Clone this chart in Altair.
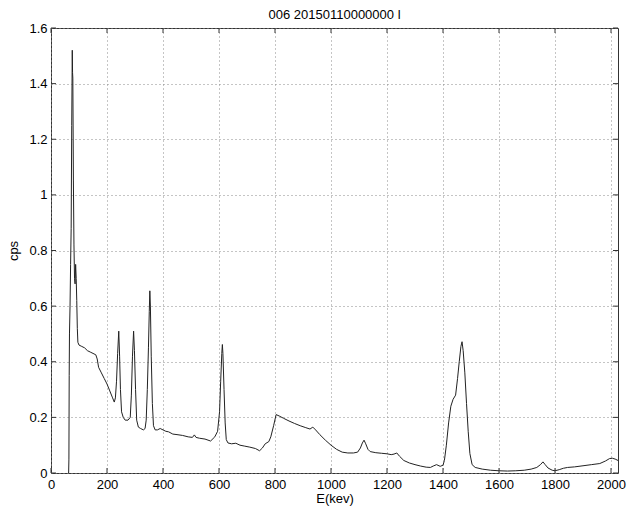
import altair as alt
import pandas as pd

energy = [62, 63, 64, 65, 66, 68, 70, 72, 74, 76, 77, 78, 80, 82, 84, 86, 88, 90, 92, 94, 96, 100,
          110, 120, 130, 140, 150, 160, 165, 170, 180, 190, 200, 210, 220, 226, 230, 234, 238, 242,
          245, 248, 252, 258, 265, 275, 283, 287, 291, 295, 298, 302, 306, 312, 320, 330, 336, 340,
          344, 348, 351, 353, 355, 358, 362, 366, 372, 380, 390, 400, 410, 420, 435, 450, 470, 490,
          505, 512, 518, 530, 550, 570, 585, 595, 602, 606, 610, 612, 614, 618, 622, 626, 632, 645,
          660, 675, 690, 710, 730, 745, 755, 765, 778, 785, 795, 804, 815, 830, 850, 870, 890, 910,
          925, 935, 945, 960, 980, 1000, 1020, 1040, 1060, 1080, 1095, 1105, 1112, 1118, 1124, 1132,
          1140, 1160, 1180, 1200, 1215, 1225, 1235, 1245, 1260, 1280, 1300, 1320, 1340, 1355, 1365,
          1377, 1390, 1400, 1405, 1412, 1420, 1428, 1436, 1445, 1452, 1458, 1464, 1468, 1472, 1478,
          1484, 1490, 1496, 1504, 1515, 1540, 1570, 1600, 1630, 1660, 1690, 1715, 1735, 1748, 1757,
          1765, 1775, 1790, 1800, 1815, 1830, 1845, 1870, 1900, 1930, 1960, 1980, 1995, 2005, 2015,
          2025]
cps = [0.0, 0.0, 0.05, 0.35, 0.5, 0.6, 0.75, 0.88, 1.25, 1.52, 1.44, 1.42, 1.05, 0.82, 0.7, 0.68,
       0.75, 0.7, 0.62, 0.52, 0.47, 0.46,
       0.455, 0.45, 0.44, 0.435, 0.43, 0.425, 0.41, 0.38, 0.36, 0.34, 0.32, 0.295, 0.27, 0.255,
       0.27, 0.33, 0.43, 0.51,
       0.42, 0.3, 0.22, 0.2, 0.19, 0.19, 0.2, 0.28, 0.42, 0.51, 0.44, 0.3, 0.19, 0.165, 0.16, 0.155,
       0.16, 0.19,
       0.3, 0.45, 0.58, 0.655, 0.6, 0.42, 0.25, 0.17, 0.155, 0.155, 0.16, 0.155, 0.15, 0.148, 0.14,
       0.138, 0.135, 0.13,
       0.128, 0.137, 0.128, 0.125, 0.122, 0.115, 0.13, 0.15, 0.22, 0.33, 0.43, 0.462, 0.43, 0.3,
       0.18, 0.12, 0.108, 0.105,
       0.107, 0.1, 0.097, 0.093, 0.088, 0.08, 0.09, 0.105, 0.113, 0.13, 0.17, 0.21, 0.205, 0.197,
       0.187, 0.178, 0.17, 0.163,
       0.158, 0.165, 0.155, 0.138, 0.118, 0.1, 0.085, 0.075, 0.072, 0.072, 0.075, 0.09, 0.108,
       0.118, 0.105, 0.085,
       0.077, 0.073, 0.071, 0.069, 0.066, 0.068, 0.072, 0.06, 0.045, 0.036, 0.03, 0.025, 0.021,
       0.02, 0.025,
       0.03, 0.024, 0.028, 0.045, 0.1, 0.18, 0.24, 0.265, 0.28, 0.34, 0.4, 0.455, 0.472, 0.44,
       0.36,
       0.25, 0.15, 0.07, 0.03, 0.02, 0.014, 0.01, 0.008, 0.007, 0.008, 0.01, 0.014, 0.02, 0.03,
       0.04,
       0.03, 0.018, 0.01, 0.008, 0.012, 0.017, 0.02, 0.022, 0.026, 0.03, 0.034, 0.043, 0.052,
       0.053, 0.05,
       0.045]

x_ticks = [0, 200, 400, 600, 800, 1000, 1200, 1400, 1600, 1800, 2000]
y_ticks = [0, 0.2, 0.4, 0.6, 0.8, 1.0, 1.2, 1.4, 1.6]

title_text = "006 20150110000000 l"

W, H = 567, 445
FONT = "Liberation Sans"

df = pd.DataFrame({"E": energy, "cps": cps})
xt = pd.DataFrame({"E": x_ticks})
yt = pd.DataFrame({"cps": y_ticks})

xscale = alt.Scale(domain=[0, 2025], nice=False, zero=False)
yscale = alt.Scale(domain=[0, 1.6], nice=False)

line = alt.Chart(df).mark_line(color="#222222", strokeWidth=1, clip=True).encode(
    x=alt.X("E:Q", scale=xscale, title="E(kev)",
            axis=alt.Axis(values=x_ticks, format="d", grid=True, gridDash=[1, 3],
                          gridColor="#8a8a8a", gridOpacity=1, tickSize=0, domain=False,
                          labelPadding=5, labelFontSize=13, labelFont=FONT,
                          labelColor="#000000", titleFont=FONT, titleFontSize=13,
                          titleFontWeight="normal", titleColor="#000000", titlePadding=1,
                          labelFlush=False)),
    y=alt.Y("cps:Q", scale=yscale, title="cps",
            axis=alt.Axis(values=y_ticks, grid=True, gridDash=[1, 3], gridColor="#8a8a8a",
                          gridOpacity=1, tickSize=0, domain=False, labelPadding=4,
                          labelFontSize=13, labelFont=FONT, labelColor="#000000",
                          labelExpr="datum.value == round(datum.value) ? format(datum.value, 'd') : format(datum.value, '.1f')",
                          titleFont=FONT, titleFontSize=13, titleFontWeight="normal",
                          titleColor="#000000", titlePadding=8, labelFlush=False)),
)

tick_color = "#333333"
xb = alt.Chart(xt).mark_rule(color=tick_color, strokeWidth=1).encode(
    x=alt.X("E:Q", scale=xscale), y=alt.value(H), y2=alt.value(H - 5))
xtop = alt.Chart(xt).mark_rule(color=tick_color, strokeWidth=1).encode(
    x=alt.X("E:Q", scale=xscale), y=alt.value(0), y2=alt.value(5))
yl = alt.Chart(yt).mark_rule(color=tick_color, strokeWidth=1).encode(
    y=alt.Y("cps:Q", scale=yscale), x=alt.value(0), x2=alt.value(5))
yr = alt.Chart(yt).mark_rule(color=tick_color, strokeWidth=1).encode(
    y=alt.Y("cps:Q", scale=yscale), x=alt.value(W), x2=alt.value(W - 5))

chart = alt.layer(line, xb, xtop, yl, yr).properties(
    width=W, height=H,
    title=alt.TitleParams(title_text, font=FONT, fontSize=13, fontWeight="normal",
                          color="#000000", offset=1, anchor="middle",
                          baseline="alphabetic", dy=11),
    autosize=alt.AutoSizeParams(type="none"),
    padding={"left": 51, "top": 28, "right": 17, "bottom": 39},
    background="white",
).configure_view(stroke="#333333", strokeWidth=1)

chart.save("out.html", embed_options={"renderer": "svg", "actions": False})
